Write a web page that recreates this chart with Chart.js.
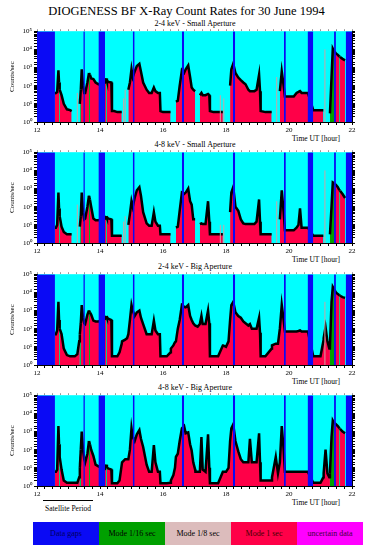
<!DOCTYPE html>
<html>
<head>
<meta charset="utf-8">
<script src="https://cdn.jsdelivr.net/npm/chart.js@4.4.1/dist/chart.umd.min.js"></script>
<style>
  body { margin: 0; background: #fff; width: 373px; height: 550px; position: relative; overflow: hidden;
         font-family: 'Liberation Serif', 'DejaVu Serif', serif; }
  .t { position: absolute; white-space: nowrap; color: #000; }
  canvas { position: absolute; left: 0; }
  .box { position: absolute; top: 522px; height: 23px; width: 66px; font-size: 8px; line-height: 23px; text-align: center; }
</style>
</head>
<body>
<div class="t" style="left:0;width:373px;text-align:center;top:4px;font-size:12.5px;font-weight:normal">DIOGENESS BF X-Ray Count Rates for 30 June 1994</div>

<script>
// sample times (hours UT), shared by all four panels
const times = [
  12.57, 12.60, 12.64, 12.68, 12.70, 12.72, 12.78, 12.85, 12.95, 13.05, 13.10,
  13.11, 13.20, 13.28, 13.34,
  13.36, 13.39, 13.42, 13.46, 13.50, 13.53, 13.60, 13.65, 13.68, 13.72, 13.79, 13.86, 13.95, 14.05,
  14.16, 14.20, 14.22, 14.28, 14.36,
  14.38, 14.45, 14.55, 14.62, 14.69,
  14.70, 14.80, 14.86,
  14.90, 14.95, 15.00, 15.04, 15.10, 15.17, 15.25, 15.30, 15.37, 15.48, 15.56, 15.64, 15.71, 15.76, 15.84, 15.90,
  15.92, 16.00, 16.12, 16.24,
  16.25, 16.33, 16.38,
  16.41, 16.47, 16.53, 16.60, 16.67, 16.72, 16.80, 16.86, 16.91, 16.96, 17.02,
  17.03, 17.10,
  17.17, 17.22, 17.26, 17.35, 17.43, 17.47,
  17.49, 17.60, 17.75, 17.90,
  17.91, 18.00, 18.08,
  18.13, 18.17, 18.23, 18.30, 18.39, 18.47, 18.55, 18.62, 18.71, 18.76, 18.82, 18.90, 18.97, 19.05, 19.08,
  19.10, 19.25, 19.45,
  19.46, 19.58, 19.65,
  19.71, 19.77, 19.83, 19.87, 20.00, 20.15, 20.24, 20.30, 20.35, 20.40, 20.50, 20.60,
  20.77, 20.90, 21.00, 21.09,
  21.10, 21.16, 21.22, 21.28,
  21.30, 21.35, 21.39, 21.43, 21.49, 21.55, 21.60, 21.62, 21.70, 21.78,
  21.79
];

// count rates (counts/sec), null = no data
const rate24Small = [
  35, 40, 45, 700, 150, 60, 30, 10, 5, 4.5, 4,
  null, null, null, null,
  10, 60, 800, 100, 40, 40, 150, 500, 400, 250, 230, 150, 120, 150,
  150, 250, 180, 160, 150,
  4, 4, 3.5, 3.5, 3.5,
  null, null, null,
  60, 150, 800, 300, 600, 1200, 1600, 600, 150, 60, 40, 40, 80, 50, 40, 40,
  4, 3.5, 3.5, 3.5,
  null, null, null,
  13, 15, 100, 700, 500, 800, 1300, 300, 80, 60, 50,
  null, null,
  30, 40, 30, 30, 35, 30,
  4, 3.5, 3.5, 3.5,
  null, null, null,
  100, 800, 1600, 500, 280, 200, 150, 120, 60, 50, 50, 50, 60, 400, 50,
  4, 3.5, 3.5,
  null, null, null,
  50, 600, 100, 25, 25, 25, 40, 45, 50, 40, 40, 40,
  4.5, 4.5, 4.5, 4.5,
  null, null, null, null,
  3, 300, 11000, 8000, 6000, 5000, 4000, 3800, 3000, 2500,
  null
];
const rate48Small = [
  7, 7, 10, 600, 80, 30, 8, 4, 3, 3, 3,
  null, null, null, null,
  8, 30, 600, 50, 20, 22, 100, 400, 250, 100, 22, 18, 18, 20,
  22, 30, 24, 22, 20,
  2.5, 2.5, 2.5, 2.5, 2.5,
  null, null, null,
  10, 40, 200, 100, 300, 800, 1200, 400, 50, 12, 9, 9, 50, 15, 9, 9,
  3, 3, 3, 3,
  null, null, null,
  7, 8, 60, 600, 500, 600, 1000, 200, 130, 20, 20,
  null, null,
  11, 12, 11, 11, 200, 15,
  3, 3, 3, 3,
  null, null, null,
  50, 600, 1200, 100, 60, 20, 12, 11, 11, 11, 11, 11, 15, 250, 15,
  3, 3, 3,
  null, null, null,
  20, 800, 50, 5, 5, 5, 7, 10, 80, 7, 7, 7,
  2.5, 2.5, 2.5, 2.5,
  null, null, null, null,
  3, 100, 2200, 2000, 1600, 1200, 800, 750, 500, 300,
  null
];
const rate24Big = [
  50, 50, 80, 3000, 300, 100, 50, 8, 3.5, 3, 3,
  3, 3, 4, 20,
  50, 200, 2000, 400, 200, 180, 600, 1000, 800, 600, 280, 250, 250, 280,
  350, 500, 400, 350, 300,
  3, 3, 3, 5, 15,
  20, 25, 30,
  50, 300, 2000, 1000, 500, 800, 1000, 400, 180, 50, 50, 50, 280, 80, 50, 50,
  3, 3, 3, 5,
  8, 12, 18,
  20, 100, 300, 2000, 1600, 1500, 2000, 500, 300, 200, 150,
  150, 130,
  180, 500, 180, 180, 1000, 200,
  3, 3, 3, 12,
  12, 10, 20,
  300, 2000, 3000, 800, 500, 400, 250, 200, 150, 180, 100, 100, 100, 400, 60,
  3, 3, 8,
  12, 15, 15,
  100, 2000, 300, 70, 70, 70, 70, 75, 80, 70, 70, 70,
  3, 3, 3, 20,
  30, 120, 20, 8,
  10, 3000, 20000, 15000, 10000, 8000, 7000, 6500, 5500, 5000,
  null
];
const rate48Big = [
  6, 6, 8, 2000, 200, 40, 8, 2, 1.5, 1.5, 1.5,
  1.5, 1.5, 1.5, 3,
  10, 100, 1000, 100, 30, 20, 60, 300, 200, 100, 45, 15, 12, 10,
  9, 15, 10, 9, 8,
  1.4, 1.4, 1.4, 2, 15,
  20, 30, 30,
  30, 100, 1500, 500, 300, 700, 1200, 400, 140, 15, 6, 6, 180, 20, 6, 6,
  1.4, 1.4, 1.4, 1.5,
  2, 4, 10,
  40, 60, 300, 1500, 2000, 800, 900, 200, 90, 20, 8,
  6, 6,
  6, 500, 8, 6, 700, 10,
  1.4, 1.4, 1.4, 6,
  6, 6, 10,
  300, 1500, 2500, 300, 80, 30, 20, 20, 20, 400, 20, 20, 20, 800, 20,
  2, 2, 2,
  3, 40, 5,
  20, 2000, 100, 6, 6, 6, 6, 6, 6, 6, 6, 6,
  1.5, 1.5, 1.5, 3,
  5, 100, 5, 3,
  5, 500, 4000, 3000, 2500, 2000, 1500, 1400, 1000, 800,
  null
];

// intervals starting at these times are in Mode 1/16 sec
const fastModeStarts = [12.70, 13.36, 13.65, 14.20, 21.30, 21.35, 21.39, 21.60];

// single Mode 1/8 sec samples
const slowTimes = [13.28, 14.75, 14.80, 17.82, 17.93, 19.61, 21.14];
const slow24Small = [40, 20, 60, 30, 20, 300, 10000];
const slow48Small = [130, 15, 30, 10, 10, 200, 10000];
const slow24Big = [1, 1, 1, 1, 1, 1, 3000];
const slow48Big = [1, 1, 1, 1, 1, 1, 1];

// periods without data
const gapStart = [12.0, 13.47, 13.95, 15.04, 16.60, 18.22, 19.84, 20.59, 21.43, 21.80];
const gapEnd = [12.57, 13.52, 14.16, 15.10, 16.67, 18.29, 19.90, 20.77, 21.49, 22.0];

const panelTitles = ['2-4 keV - Small Aperture', '4-8 keV - Small Aperture', '2-4 keV - Big Aperture', '4-8 keV - Big Aperture'];
const panelRates = [rate24Small, rate48Small, rate24Big, rate48Big];
const panelSlow = [slow24Small, slow48Small, slow24Big, slow48Big];

const legendLabels = ['Data gaps', 'Mode 1/16 sec', 'Mode 1/8 sec', 'Mode 1 sec', 'uncertain data'];
const legendColors = ['#0a0af5', '#00a000', '#dcbcbc', '#ff0048', '#ff00ff'];
const legendText = ['#000060', '#000', '#000', '#400', '#400040'];

const CYAN = '#00ffff', BLUE = '#0a0af5', GREEN = '#00a000', RED = '#ff0048', PINK = '#c8a6a6';
const FONT = "'Liberation Serif', serif";
const sup = ['\u2070', '\u00b9', '\u00b2', '\u00b3', '\u2074', '\u2075'];

const plotTops = [31, 152, 274, 395];
const plotH = 91;

const bgPlugin = {
  id: 'bg',
  beforeDraw(chart) {
    const { ctx, chartArea: a } = chart;
    ctx.save();
    ctx.fillStyle = CYAN;
    ctx.fillRect(a.left, a.top, a.right - a.left, a.bottom - a.top);
    ctx.restore();
  }
};

function addText(txt, left, top, size, extra) {
  const d = document.createElement('div');
  d.className = 't';
  d.textContent = txt;
  d.style.left = left + 'px';
  d.style.top = top + 'px';
  d.style.fontSize = size + 'px';
  if (extra) Object.assign(d.style, extra);
  document.body.appendChild(d);
  return d;
}

const bandPoints = [];
gapStart.forEach((s, i) => {
  bandPoints.push({ x: s, y: 1e5 }, { x: gapEnd[i], y: 1e5 }, { x: gapEnd[i], y: null });
});

panelTitles.forEach((title, p) => {
  const top = plotTops[p];
  addText(title, 95, top - 12, 8, { width: '200px', textAlign: 'center' });
  addText('Time UT [hour]', 292, top + plotH + 12, 7.5);

  const canvas = document.createElement('canvas');
  canvas.width = 373;
  canvas.height = plotH + 6 + 14;
  canvas.style.top = (top - 6) + 'px';
  document.body.appendChild(canvas);

  const rates = panelRates[p];
  const slowPts = [];
  slowTimes.forEach((t, i) => {
    slowPts.push({ x: t, y: 1 }, { x: t, y: panelSlow[p][i] }, { x: t, y: null });
  });

  new Chart(canvas.getContext('2d'), {
    type: 'line',
    data: {
      datasets: [
        {
          data: times.map((t, i) => ({ x: t, y: rates[i] })),
          borderColor: '#000', borderWidth: 2.5, backgroundColor: RED,
          fill: 'start', pointRadius: 0, spanGaps: false, tension: 0, order: 2,
          segment: {
            backgroundColor: ctx => fastModeStarts.includes(times[ctx.p0DataIndex]) ? GREEN : RED
          }
        },
        {
          data: slowPts, borderColor: PINK, borderWidth: 1, fill: false,
          pointRadius: 0, spanGaps: false, order: 1
        },
        {
          data: bandPoints, borderWidth: 0, borderColor: BLUE, backgroundColor: BLUE,
          fill: 'start', pointRadius: 0, spanGaps: false, order: 0
        }
      ]
    },
    options: {
      responsive: false, animation: false, events: [],
      layout: { padding: 0 },
      plugins: { legend: { display: false }, tooltip: { enabled: false } },
      scales: {
        x: {
          type: 'linear', position: 'bottom', min: 12, max: 22,
          afterFit: s => { s.height = 14; },
          ticks: {
            stepSize: 0.25, autoSkip: false, maxRotation: 0, color: '#000', padding: 1,
            font: { family: FONT, size: 7 },
            callback: v => (Math.abs(v % 2) < 1e-9 ? String(v) : '')
          },
          grid: { drawOnChartArea: false, tickLength: 3, color: '#000' },
          border: { color: '#000' }
        },
        x2: {
          type: 'linear', position: 'top', min: 12, max: 22,
          afterFit: s => { s.height = 6; },
          ticks: { display: false, stepSize: 0.25, autoSkip: false },
          grid: { drawOnChartArea: false, tickLength: 2, color: '#999' },
          border: { display: false }
        },
        y: {
          type: 'logarithmic', position: 'left', min: 1, max: 1e5,
          afterFit: s => { s.width = 37; },
          ticks: {
            autoSkip: false, color: '#000', padding: 2,
            font: { family: FONT, size: 7 },
            callback: v => {
              const e = Math.round(Math.log10(v));
              return Math.abs(Math.log10(v) - e) < 1e-9 ? '10' + sup[e] : '';
            }
          },
          grid: { drawOnChartArea: false, tickLength: 3, color: '#000' },
          border: { color: '#000' },
          title: { display: true, text: 'Counts/sec', color: '#000', font: { family: FONT, size: 7 }, padding: { top: 8, bottom: 0 } }
        },
        y2: {
          type: 'logarithmic', position: 'right', min: 1, max: 1e5,
          afterFit: s => { s.width = 21; },
          ticks: { display: false, autoSkip: false },
          grid: { drawOnChartArea: false, tickLength: 3, color: '#000' },
          border: { color: '#000' }
        }
      }
    },
    plugins: [bgPlugin]
  });
});

// satellite period marker
const line = document.createElement('div');
line.style.cssText = 'position:absolute;left:43px;top:500px;width:50px;height:1px;background:#000';
document.body.appendChild(line);
addText('Satellite Period', 38, 504, 7.5, { width: '60px', textAlign: 'center' });

// legend
legendLabels.forEach((lab, i) => {
  const b = document.createElement('div');
  b.className = 'box';
  b.style.left = (33 + i * 66) + 'px';
  b.style.background = legendColors[i];
  b.style.color = legendText[i];
  b.textContent = lab;
  document.body.appendChild(b);
});
</script>
</body>
</html>
